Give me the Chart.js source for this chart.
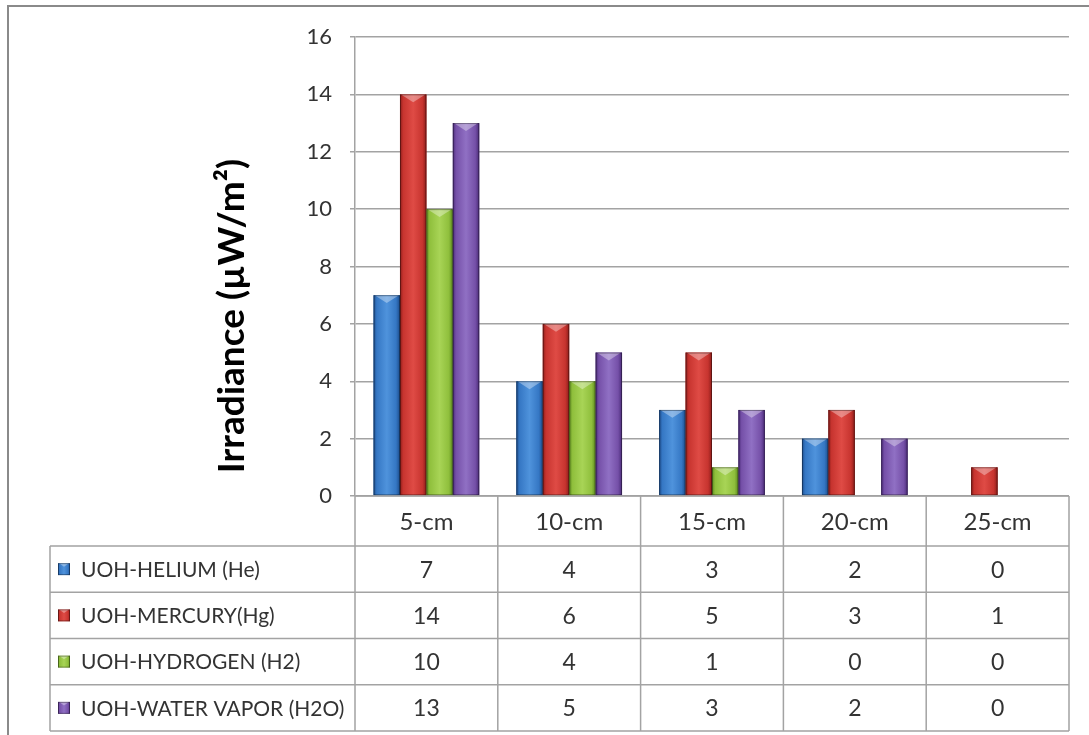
<!DOCTYPE html>
<html>
<head>
<meta charset="utf-8">
<script src="https://cdn.jsdelivr.net/npm/chart.js@4.4.1/dist/chart.umd.min.js"></script>
<style>
  html, body { margin: 0; padding: 0; background: #fff; }
  #wrap { width: 1089px; height: 735px; }
</style>
</head>
<body>
<div id="wrap"><canvas id="c" width="1089" height="735"></canvas></div>
<script>
// Distances from the lamp
const categories = ['5-cm', '10-cm', '15-cm', '20-cm', '25-cm'];
// Series labels shown in the data table
const seriesNames = ['UOH-HELIUM (He)', 'UOH-MERCURY(Hg)', 'UOH-HYDROGEN (H2)', 'UOH-WATER VAPOR (H2O)'];
// Irradiance readings (µW/m²)
const helium     = [7, 4, 3, 2, 0];
const mercury    = [14, 6, 5, 3, 1];
const hydrogen   = [10, 4, 1, 0, 0];
const waterVapor = [13, 5, 3, 2, 0];
// Value axis
const yMin = 0, yMax = 16, yStep = 2;
const axisTitle = 'Irradiance (µW/m²)';

// Bevelled bar palette: [edge, body, highlight]
const palette = [
  ['#1d4d8c', '#3577c4', '#4f93dc'],
  ['#8c1d1a', '#c7342f', '#df4b45'],
  ['#5d8a1f', '#8fbf3c', '#a8d456'],
  ['#4a2b78', '#7550a8', '#9070c4']
];

const seriesValues = [helium, mercury, hydrogen, waterVapor];
const FONT = 'Lato, "Open Sans", sans-serif';
const TEXT = '#333333';
const LINE = '#a3a3a3';

function bevelFill(ctx, x0, top, w, h, cols) {
  if (h <= 0.5 || w <= 0) return;
  const g = ctx.createLinearGradient(x0, 0, x0 + w, 0);
  g.addColorStop(0, cols[0]);
  g.addColorStop(0.12, cols[1]);
  g.addColorStop(0.5, cols[2]);
  g.addColorStop(0.85, cols[1]);
  g.addColorStop(1, cols[0]);
  ctx.fillStyle = g;
  ctx.fillRect(x0, top, w, h);
  // light chevron on the top face
  const ch = Math.min(w * 0.3, h);
  ctx.beginPath();
  ctx.moveTo(x0 + 1, top);
  ctx.lineTo(x0 + w - 1, top);
  ctx.lineTo(x0 + w / 2, top + ch);
  ctx.closePath();
  ctx.fillStyle = 'rgba(255,255,255,0.35)';
  ctx.fill();
  // soft dark outline
  ctx.strokeStyle = 'rgba(0,0,0,0.35)';
  ctx.lineWidth = 1;
  ctx.strokeRect(x0 + 0.5, top + 0.5, w - 1, h - 1);
}

const bevelBars = {
  id: 'bevelBars',
  afterDatasetsDraw(chart) {
    const ctx = chart.ctx;
    ctx.save();
    chart.data.datasets.forEach((ds, i) => {
      const meta = chart.getDatasetMeta(i);
      meta.data.forEach(el => {
        const p = el.getProps(['x', 'y', 'base', 'width'], true);
        const top = Math.min(p.y, p.base);
        const h = Math.abs(p.base - p.y);
        bevelFill(ctx, p.x - p.width / 2, top, p.width, h, palette[i]);
      });
    });
    ctx.restore();
  }
};

const frameAndTable = {
  id: 'frameAndTable',
  beforeDraw(chart) {
    const ctx = chart.ctx;
    ctx.save();
    ctx.fillStyle = '#fff';
    ctx.fillRect(0, 0, chart.width, chart.height);
    ctx.strokeStyle = '#8a8a8a';
    ctx.lineWidth = 2;
    ctx.strokeRect(8, 6, chart.width + 20, chart.height + 20);
    ctx.restore();
  },
  afterDraw(chart) {
    const ctx = chart.ctx;
    const area = chart.chartArea;
    const xs = chart.scales.x;
    const n = categories.length;
    const cw = (area.right - area.left) / n;
    const tableLeft = 50;
    const headTop = area.bottom;
    const headH = 50;
    const rowH = 46.25;
    const bottom = headTop + headH + rowH * seriesNames.length;

    ctx.save();
    ctx.strokeStyle = LINE;
    ctx.lineWidth = 1.5;
    ctx.beginPath();
    // category dividers
    for (let i = 0; i <= n; i++) {
      const x = area.left + i * cw;
      ctx.moveTo(x, headTop);
      ctx.lineTo(x, bottom);
    }
    // label column left edge
    ctx.moveTo(tableLeft, headTop + headH);
    ctx.lineTo(tableLeft, bottom);
    // row lines
    ctx.moveTo(area.left, headTop);
    ctx.lineTo(area.right, headTop);
    for (let r = 0; r <= seriesNames.length; r++) {
      const y = headTop + headH + r * rowH;
      ctx.moveTo(tableLeft, y);
      ctx.lineTo(area.right, y);
    }
    ctx.stroke();

    ctx.fillStyle = TEXT;
    ctx.textBaseline = 'middle';
    ctx.textAlign = 'center';
    ctx.font = '24px ' + FONT;
    categories.forEach((c, i) => {
      ctx.fillText(c, xs.getPixelForValue(i), headTop + headH / 2 + 1);
    });
    seriesNames.forEach((name, r) => {
      const cy = headTop + headH + r * rowH + rowH / 2;
      bevelFill(ctx, 58, cy - 6, 12, 12, palette[r]);
      ctx.fillStyle = TEXT;
      ctx.textAlign = 'left';
      ctx.font = '21px ' + FONT;
      ctx.fillText(name, 81, cy + 1);
      ctx.textAlign = 'center';
      ctx.font = '23px ' + FONT;
      seriesValues[r].forEach((v, i) => {
        ctx.fillText(String(v), xs.getPixelForValue(i), cy + 1);
      });
    });

    // value axis title
    ctx.translate(232, 316);
    ctx.rotate(-Math.PI / 2);
    ctx.fillStyle = '#000';
    ctx.font = 'bold 37px ' + FONT;
    ctx.textAlign = 'center';
    ctx.fillText(axisTitle, 0, 0);
    ctx.restore();
  }
};

new Chart(document.getElementById('c'), {
  type: 'bar',
  data: {
    labels: categories,
    datasets: seriesNames.map((name, i) => ({
      label: name,
      data: seriesValues[i],
      backgroundColor: palette[i][1],
      borderWidth: 0,
      barPercentage: 1,
      categoryPercentage: 0.74
    }))
  },
  options: {
    responsive: false,
    animation: false,
    layout: { padding: { left: 0, top: 37, right: 20, bottom: 239 } },
    plugins: { legend: { display: false }, tooltip: { enabled: false } },
    scales: {
      x: { display: false },
      y: {
        min: yMin, max: yMax,
        afterFit(scale) { scale.width = 355; },
        ticks: {
          stepSize: yStep,
          color: TEXT,
          padding: 18,
          font: { family: FONT, size: 22 }
        },
        grid: { color: LINE, lineWidth: 1.5, tickLength: 5, drawTicks: true },
        border: { color: LINE, width: 1.5 }
      }
    }
  },
  plugins: [frameAndTable, bevelBars]
});
</script>
</body>
</html>
